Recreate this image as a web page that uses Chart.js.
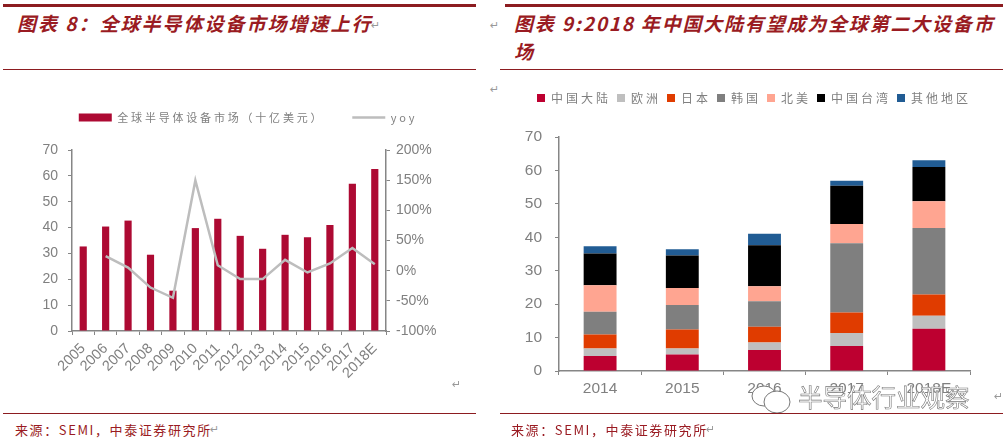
<!DOCTYPE html>
<html>
<head>
<meta charset="utf-8">
<script src="https://cdn.jsdelivr.net/npm/chart.js@4"></script>
<style>
html, body { margin: 0; padding: 0; background: #fff; width: 1005px; height: 443px; overflow: hidden; }
div, canvas, svg { position: absolute; }
.rule { background: #8c1c20; height: 1px; }
.heavy { height: 3px; top: 4px; }
.title { font: italic bold 19px "Noto Sans CJK SC", sans-serif; color: #9a1b22; line-height: 28px; white-space: nowrap; }
.source { font: 13px "Noto Sans CJK SC", sans-serif; color: #9a1b22; letter-spacing: 1.6px; top: 420px; white-space: nowrap; }
.mark { font: 11px "DejaVu Sans", sans-serif; color: #999; }
.watermark { left: 798px; top: 381px; font: 24.5px/32px "Noto Sans CJK SC", sans-serif; color: #fff; -webkit-text-stroke: 0.6px #777; white-space: nowrap; }
</style>
</head>
<body>
<div class="rule heavy" style="left:3px;width:473px"></div>
<div class="rule heavy" style="left:505px;width:498px"></div>
<div class="title" style="left:17px;top:9px;letter-spacing:2px">图表 8：全球半导体设备市场增速上行</div>
<div class="title" style="left:514px;top:9px;letter-spacing:1.8px">图表 9:2018 年中国大陆有望成为全球第二大设备市<br>场</div>
<div class="rule" style="left:3px;top:69px;width:473px"></div>
<div class="rule" style="left:500px;top:69px;width:503px"></div>
<canvas id="marketChart" style="left:0;top:84px;width:484px;height:316px"></canvas>
<canvas id="regionChart" style="left:500px;top:86px;width:505px;height:314px"></canvas>
<svg style="left:750px;top:384px" width="42" height="30">
  <ellipse cx="14" cy="12" rx="12" ry="10" fill="#fff" stroke="#777"></ellipse>
  <ellipse cx="27" cy="18" rx="13" ry="11" fill="#fff" stroke="#777"></ellipse>
</svg>
<div class="watermark">半导体行业观察</div>
<div class="rule" style="left:3px;top:413px;width:473px"></div>
<div class="rule" style="left:500px;top:413px;width:503px"></div>
<div class="source" style="left:15px">来源：SEMI，中泰证券研究所</div>
<div class="source" style="left:511px">来源：SEMI，中泰证券研究所</div>
<div class="mark" style="left:371px;top:19px">↵</div>
<div class="mark" style="left:490px;top:19px">↵</div>
<div class="mark" style="left:490px;top:83px">↵</div>
<div class="mark" style="left:452px;top:378px">↵</div>
<div class="mark" style="left:994px;top:390px">↵</div>
<div class="mark" style="left:210px;top:423px">↵</div>
<div class="mark" style="left:706px;top:423px">↵</div>
<script>
var years = ['2005', '2006', '2007', '2008', '2009', '2010', '2011', '2012', '2013', '2014', '2015', '2016', '2017', '2018E'];
var marketValues = [32.7, 40.4, 42.7, 29.5, 15.6, 39.8, 43.4, 36.8, 31.8, 37.2, 36.3, 41, 56.9, 62.7];
var yoyValues = [null, 24, 5, -28, -45, 149.5, 9, -14, -14, 18, -3, 12, 37.5, 10.5];

var regionYears = ['2014', '2015', '2016', '2017', '2018E'];
var mainland = [4.45, 4.95, 6.3, 7.5, 12.65];
var europe = [2.25, 1.8, 2.2, 3.9, 3.9];
var japan = [4.25, 5.7, 4.75, 6.1, 6.3];
var korea = [6.8, 7.3, 7.6, 20.7, 19.9];
var northAmerica = [7.9, 5.1, 4.5, 5.8, 8];
var taiwan = [9.5, 9.7, 12.3, 11.4, 10.3];
var others = [2.2, 1.9, 3.4, 1.5, 2];

var GREY = '#808080';
var AXIS = '#868686';

// legend gets extra room below it, wide letter spacing and a nudge sideways like the original
function legendTweak(extra, spacing, nudge) {
    return {
        id: 'legendTweak',
        beforeInit: function (chart) {
            var legend = chart.legend;
            var fit = legend.fit;
            var draw = legend.draw;
            legend.fit = function () {
                chart.ctx.letterSpacing = spacing;
                fit.call(this);
                chart.ctx.letterSpacing = '0px';
                this.height += extra;
            };
            legend.draw = function () {
                chart.ctx.save();
                chart.ctx.translate(nudge, 0);
                chart.ctx.letterSpacing = spacing;
                draw.call(this);
                chart.ctx.letterSpacing = '0px';
                chart.ctx.restore();
            };
        }
    };
}

function fixedWidth(w) {
    return function (scale) { scale.width = w; };
}
function fixedHeight(h) {
    return function (scale) { scale.height = h; };
}
function tickFont(size) {
    return { family: '"Liberation Sans", Arial, sans-serif', size: size };
}
var legendFont = { family: '"Noto Sans CJK SC", sans-serif', size: 12 };

new Chart(document.getElementById('marketChart'), {
    type: 'bar',
    data: {
        labels: years,
        datasets: [{
            label: '全球半导体设备市场（十亿美元）',
            data: marketValues,
            backgroundColor: '#ad0a33',
            borderWidth: 0,
            barPercentage: 0.32,
            categoryPercentage: 1,
            yAxisID: 'y',
            order: 2
        }, {
            type: 'line',
            label: 'yoy',
            data: yoyValues,
            borderColor: '#bdbdbd',
            backgroundColor: '#bdbdbd',
            borderWidth: 2.5,
            pointRadius: 0,
            tension: 0,
            yAxisID: 'y1',
            order: 1
        }]
    },
    options: {
        responsive: false,
        animation: false,
        devicePixelRatio: 1,
        plugins: {
            tooltip: { enabled: false },
            legend: {
                labels: {
                    usePointStyle: true,
                    pointStyleWidth: 33,
                    boxHeight: 8,
                    padding: 28,
                    color: GREY,
                    font: { family: legendFont.family, size: 11 },
                    generateLabels: function (chart) {
                        var items = Chart.defaults.plugins.legend.labels.generateLabels(chart);
                        items.sort(function (a, b) { return a.datasetIndex - b.datasetIndex; });
                        items[0].pointStyle = 'rect';
                        items[1].pointStyle = 'line';
                        return items;
                    }
                }
            }
        },
        scales: {
            x: {
                afterFit: fixedHeight(69),
                border: { color: AXIS, width: 1.5 },
                grid: { offset: true, drawOnChartArea: false, color: AXIS, tickLength: 4 },
                ticks: { color: GREY, font: tickFont(14.5), maxRotation: 45, minRotation: 45, autoSkip: false, padding: 5 }
            },
            y: {
                min: 0,
                max: 70,
                afterFit: fixedWidth(72),
                border: { color: AXIS, width: 1.5 },
                grid: { drawOnChartArea: false, color: AXIS, tickLength: 4 },
                ticks: { stepSize: 10, color: GREY, font: tickFont(14), padding: 10 }
            },
            y1: {
                position: 'right',
                min: -100,
                max: 200,
                afterFit: fixedWidth(98),
                border: { color: AXIS, width: 1.5 },
                grid: { drawOnChartArea: false, color: AXIS, tickLength: 4 },
                ticks: {
                    stepSize: 50,
                    color: GREY,
                    font: tickFont(14),
                    padding: 6,
                    callback: function (v) { return v + '%'; }
                }
            }
        }
    },
    plugins: [legendTweak(17, '2.8px', 6)]
});

var regionNames = ['中国大陆', '欧洲', '日本', '韩国', '北美', '中国台湾', '其他地区'];
var regionSeries = [mainland, europe, japan, korea, northAmerica, taiwan, others];
var regionColors = ['#bd0030', '#bfbfbf', '#e03c00', '#7f7f7f', '#ffa591', '#000000', '#215c94'];

new Chart(document.getElementById('regionChart'), {
    type: 'bar',
    data: {
        labels: regionYears,
        datasets: regionSeries.map(function (values, i) {
            return {
                label: regionNames[i],
                data: values,
                backgroundColor: regionColors[i],
                borderWidth: 0,
                barPercentage: 0.4,
                categoryPercentage: 1
            };
        })
    },
    options: {
        responsive: false,
        animation: false,
        devicePixelRatio: 1,
        layout: { padding: { right: 35 } },
        plugins: {
            tooltip: { enabled: false },
            legend: {
                labels: {
                    boxWidth: 8,
                    boxHeight: 8,
                    padding: 6,
                    color: GREY,
                    font: legendFont
                }
            }
        },
        scales: {
            x: {
                stacked: true,
                afterFit: fixedHeight(29),
                border: { color: AXIS, width: 1.5 },
                grid: { offset: true, drawOnChartArea: false, color: AXIS, tickLength: 4 },
                ticks: { color: GREY, font: tickFont(15.5), padding: 4 }
            },
            y: {
                stacked: true,
                min: 0,
                max: 70,
                afterFit: fixedWidth(59),
                border: { color: AXIS, width: 1.5 },
                grid: { drawOnChartArea: false, color: AXIS, tickLength: 4 },
                ticks: { stepSize: 10, color: GREY, font: tickFont(15.5), padding: 13 }
            }
        }
    },
    plugins: [legendTweak(23, '3px', 19)]
});
</script>
</body>
</html>
